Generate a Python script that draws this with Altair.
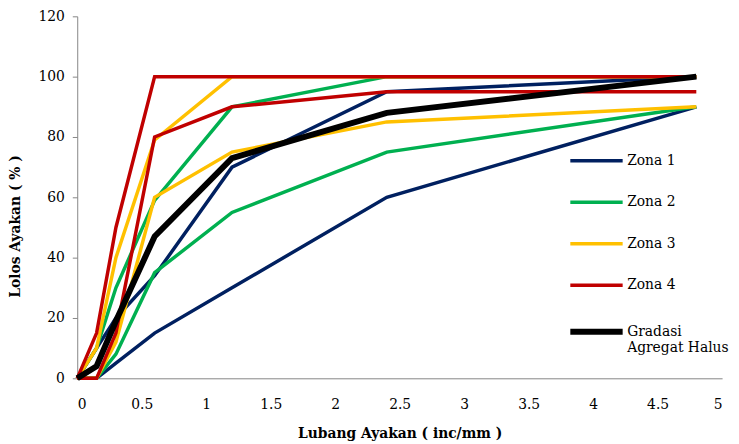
import altair as alt
import pandas as pd

sieve = [0, 0.15, 0.3, 0.6, 1.2, 2.4, 4.8]
z1_upper = [0, 10, 20, 34, 70, 95, 100]
z1_lower = [0, 0, 5, 15, 30, 60, 90]
z2_upper = [0, 10, 30, 59, 90, 100, 100]
z2_lower = [0, 0, 8, 35, 55, 75, 90]
z3_upper = [0, 10, 40, 79, 100, 100, 100]
z3_lower = [0, 0, 12, 60, 75, 85, 90]
z4_upper = [0, 15, 50, 100, 100, 100, 100]
z4_lower = [0, 0, 15, 80, 90, 95, 95]
gradasi = [0, 4, 19, 47, 73, 88, 100]

series_names = ["Zona 1", "Zona 2", "Zona 3", "Zona 4", "Gradasi Agregat Halus"]
colors = ["#002060", "#00B050", "#FFC000", "#C00000", "#000000"]
line_widths = {"Zona 1": 3.5, "Zona 2": 3.5, "Zona 3": 3.5, "Zona 4": 3.5,
               "Gradasi Agregat Halus": 6}

curves = [
    ("Zona 1", "upper", z1_upper), ("Zona 1", "lower", z1_lower),
    ("Zona 2", "upper", z2_upper), ("Zona 2", "lower", z2_lower),
    ("Zona 3", "upper", z3_upper), ("Zona 3", "lower", z3_lower),
    ("Zona 4", "upper", z4_upper), ("Zona 4", "lower", z4_lower),
    ("Gradasi Agregat Halus", "main", gradasi),
]
rows = []
for order, (name, limit, vals) in enumerate(curves):
    for i, (x, y) in enumerate(zip(sieve, vals)):
        rows.append({"series": name, "limit": name + limit, "x": x, "y": y,
                     "w": line_widths[name], "i": i})
df = pd.DataFrame(rows)

font = "DejaVu Serif"

legend = alt.Legend(
    title=None, orient="none", legendX=518, legendY=139,
    symbolType="stroke", symbolSize=2800, rowPadding=28,
    symbolStrokeWidth=alt.ExprRef("datum.value == 'Gradasi Agregat Halus' ? 6 : 3.5"),
    labelFont=font, labelFontSize=14, labelColor="#000000",
    labelLimit=200, labelOffset=24,
    labelExpr="datum.label == 'Gradasi Agregat Halus' ? ['Gradasi', 'Agregat Halus'] : datum.label",
)

chart = alt.Chart(df).mark_line(strokeJoin="miter", strokeCap="butt").encode(
    x=alt.X("x:Q", scale=alt.Scale(domain=[0, 5], nice=False),
            axis=alt.Axis(title="Lubang Ayakan ( inc/mm )", values=[0, 0.5, 1, 1.5, 2, 2.5, 3, 3.5, 4, 4.5, 5],
                          ticks=False, labelPadding=20, titlePadding=15, grid=False,
                          labelExpr="datum.value")),
    y=alt.Y("y:Q", scale=alt.Scale(domain=[0, 120], nice=False),
            axis=alt.Axis(title="Lolos Ayakan ( % )", values=[0, 20, 40, 60, 80, 100, 120],
                          tickSize=5, labelPadding=8, titlePadding=16, grid=False, titleY=212)),
    color=alt.Color("series:N", scale=alt.Scale(domain=series_names, range=colors), legend=legend),
    strokeWidth=alt.StrokeWidth("w:Q", scale=None, legend=None),
    detail="limit:N",
    order="i:Q",
).properties(
    width=652, height=366,
    autosize=alt.AutoSizeParams(type="none"),
    padding={"left": 70, "top": 6, "right": 9, "bottom": 64},
).configure(font=font).configure_view(stroke=None).configure_axis(
    domainColor="#868686", tickColor="#868686", labelFont=font, titleFont=font,
    labelFontSize=14, titleFontSize=14, labelColor="#000000", titleColor="#000000",
    titleFontWeight="bold",
)

chart.save("out.html", embed_options={"renderer": "svg", "actions": False})
